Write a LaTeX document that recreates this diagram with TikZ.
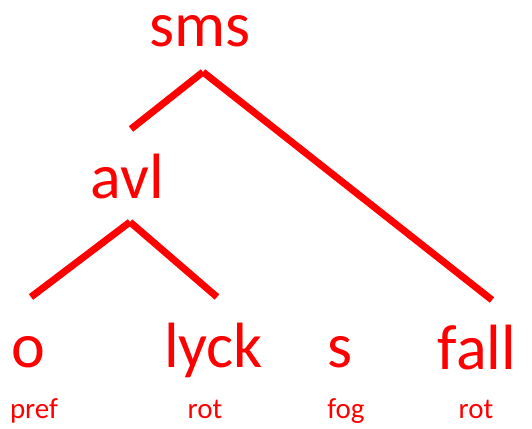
\documentclass[tikz,border=0pt]{standalone}
\usepackage{fontspec}
\setmainfont{Carlito}
\definecolor{tred}{RGB}{255,0,0}
\begin{document}
\begin{tikzpicture}[x=1pt,y=-1pt,
  big/.style={text=tred,font=\fontsize{64}{64}\selectfont,anchor=base,inner sep=0pt},
  small/.style={text=tred,font=\fontsize{29}{29}\selectfont,anchor=base,inner sep=0pt},
  branch/.style={draw=tred,line width=7pt}]
\useasboundingbox (0,0) rectangle (532,428);
\node[big] (sms) at (200,47) {sms};
\node[big] (avl) at (127.5,198) {avl};
\node[big] (o) at (28,367) {o};
\node[big] (lyck) at (213.5,367) {lyck};
\node[big] (s) at (340,367) {s};
\node[big] (fall) at (477,369) {fall};
\node[small] (pref) at (34,418) {pref};
\node[small] (rot1) at (205,418) {rot};
\node[small] (fog) at (346,418) {fog};
\node[small] (rot2) at (476,418) {rot};
\coordinate (top1) at (203,72);
\coordinate (l1) at (131,129);
\coordinate (r1) at (492,300);
\coordinate (top2) at (130,222);
\coordinate (l2) at (31,297);
\coordinate (r2) at (217,297);
\draw[branch] (top1) -- (l1);
\draw[branch] (top1) -- (r1);
\draw[branch] (top2) -- (l2);
\draw[branch] (top2) -- (r2);
\end{tikzpicture}
\end{document}
